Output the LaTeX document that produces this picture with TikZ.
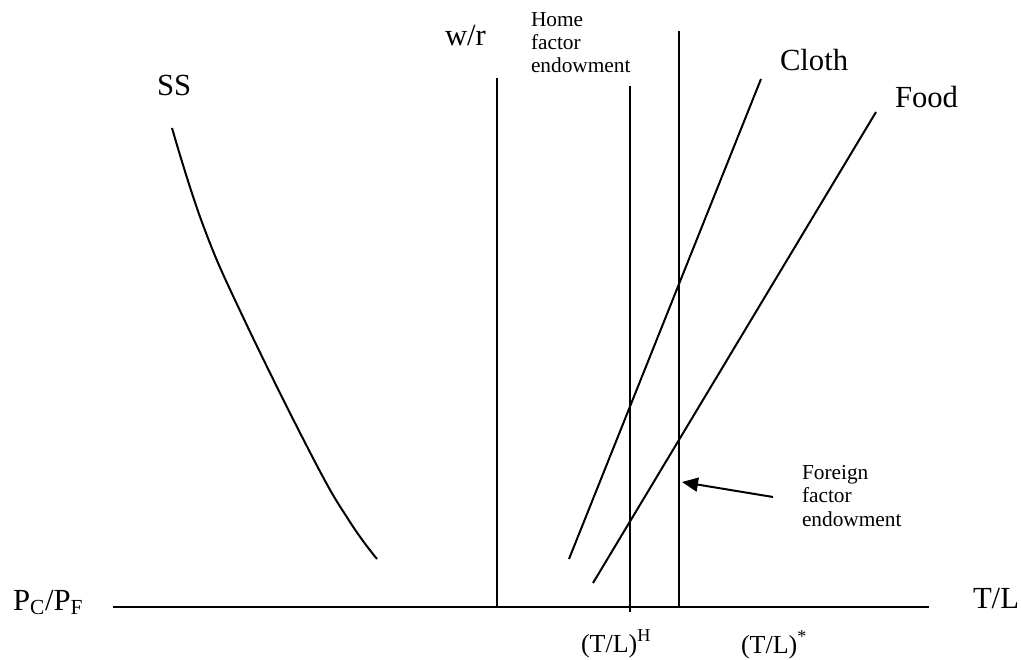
\documentclass[tikz,border=0pt]{standalone}
\usepackage{fontspec}
\setmainfont{Liberation Serif}
\usetikzlibrary{arrows.meta}

\begin{document}
\begin{tikzpicture}[x=0.75pt, y=-0.75pt,
        every node/.style={inner sep=0pt, outer sep=0pt},
        lbl/.style={font=\fontsize{23}{27}\selectfont, anchor=base west},
        tick/.style={font=\fontsize{19.5}{23}\selectfont, anchor=base west},
        note/.style={font=\fontsize{16}{17.6}\selectfont, anchor=base west, align=left},
        curve/.style={line width=1.5pt},
        arr/.style={-{Triangle[length=12pt, width=10.5pt]}, line width=1.5pt}]
        \useasboundingbox (0,0) rectangle (1021,660);

        % axes
        \coordinate (o1) at (113,607);
        \coordinate (o2) at (929,607);
        \coordinate (wr) at (497,78);
        \coordinate (wr0) at (497,607);
        \draw[curve] (o1) -- (o2);
        \draw[curve] (wr) -- (wr0);

        % endowments
        \coordinate (home) at (630,86);
        \coordinate (home0) at (630,612);
        \coordinate (forn) at (679,31);
        \coordinate (forn0) at (679,607);
        \draw[curve] (home) -- (home0);
        \draw[curve] (forn) -- (forn0);

        % industries
        \coordinate (cloth0) at (569,559);
        \coordinate (cloth1) at (761,79);
        \coordinate (food0) at (593,583);
        \coordinate (food1) at (876,112);
        \draw[curve] (cloth0) -- (cloth1);
        \draw[curve] (food0) -- (food1);

        % relative supply
        \draw[curve] plot[smooth, tension=0.7] coordinates {(172,128) (203,225) (243,317)
            (314,460) (350,522) (377,559)};

        % labels
        \node[lbl] (ss) at (157,95) {SS};
        \node[lbl] (wrlbl) at (445,46) {w/r};
        \node[lbl] (clothlbl) at (780,71) {Cloth};
        \node[lbl] (foodlbl) at (895,108) {Food};
        \node[lbl] (pcpf) at (13,610) {P\textsubscript{C}/P\textsubscript{F}};
        \node[lbl] (tl) at (973,608) {T/L};
        \node[tick] (tlh) at (581,652) {(T/L)\textsuperscript{H}};
        \node[tick] (tls) at (741,653) {(T/L)\textsuperscript{*}};
        \node[note] (homelbl) at (531,73) {Home\\factor\\endowment};
        \node[note] (fornlbl) at (802,526) {Foreign\\factor\\endowment};

        \coordinate (arrtail) at (773,497);
        \coordinate (arrtip) at (682,482);
        \draw[arr] (arrtail) -- (arrtip);
    \end{tikzpicture}
\end{document}
